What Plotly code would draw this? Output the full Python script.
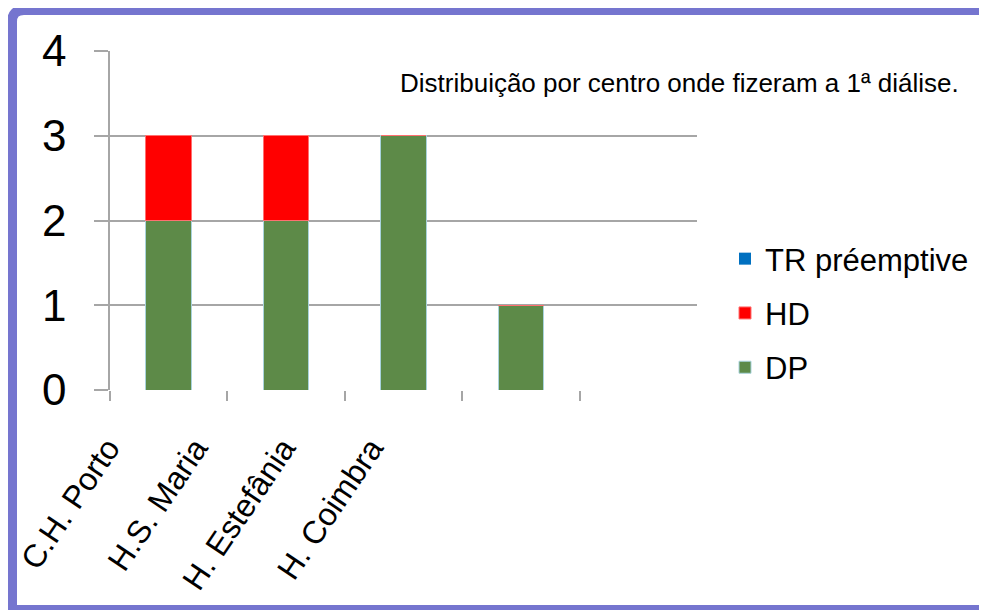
import plotly.graph_objects as go

W, H = 987, 610
OFF = 8  # page body margin, the figure is drawn 8px in from the window edge

centros = ["C.H. Porto", "H.S. Maria", "H. Estefânia", "H. Coimbra"]
dp = [2, 2, 3, 1]
hd = [1, 1, 0, 0]
tr_preemptive = [0, 0, 0, 0]

fig = go.Figure()
fig.add_trace(go.Bar(x=centros, y=dp, name="DP", legendgroup="dp", legendrank=3,
                     marker=dict(color="#5d8a48", line=dict(color="#a9d3dc", width=1))))
fig.add_trace(go.Bar(x=centros, y=hd, name="HD", legendgroup="hd", legendrank=2,
                     marker=dict(color="#ff0000", line=dict(color="#ff7070", width=1))))
fig.add_trace(go.Bar(x=centros, y=tr_preemptive, name="TR préemptive", legendgroup="tr",
                     legendrank=1, marker=dict(color="#0070c0", line=dict(width=0))))
# empty trace so the label axis gets drawn
fig.add_trace(go.Scatter(x=[], y=[], xaxis="x2", yaxis="y2", showlegend=False))

# screen pixel -> paper coords
def px(x):
    return (x - OFF) / W

def py(y):
    return 1 - (y - OFF) / H

grid = "#a6a6a6"
border = "#7575cf"
fig.update_layout(
    width=W, height=H,
    margin=dict(l=0, r=0, t=0, b=0, autoexpand=False),
    paper_bgcolor="white", plot_bgcolor="rgba(0,0,0,0)",
    barmode="stack", bargap=0.61,
    font=dict(family="Liberation Sans, Arial", color="black"),
    xaxis=dict(domain=[px(110), px(697)], type="category", range=[-0.5, 4.5],
               showticklabels=False, ticks="outside", tickson="boundaries",
               ticklen=10, tickcolor=grid, tickwidth=1.5,
               showline=False, showgrid=False, zeroline=False),
    yaxis=dict(domain=[py(390), py(51)], range=[0, 4], dtick=1,
               showgrid=True, gridcolor=grid, gridwidth=1.5,
               ticks="outside", ticklen=14, tickcolor=grid, tickwidth=1.5,
               showline=True, linecolor=grid, linewidth=1.5,
               zeroline=False, tickfont=dict(size=44), ticklabelstandoff=19),
    xaxis2=dict(domain=[px(64), px(503)], range=[-0.5, 4.5], anchor="y2",
                tickvals=[0, 1, 2, 3], ticktext=centros, tickangle=-56,
                tickfont=dict(size=32), ticks="", ticklabelstandoff=32,
                showgrid=False, showline=False, zeroline=False),
    yaxis2=dict(domain=[py(390), py(51)], visible=False, range=[0, 4]),
    legend=dict(x=px(725), y=py(232), xanchor="left", yanchor="top",
                traceorder="grouped", tracegroupgap=11,
                font=dict(size=31), bgcolor="rgba(0,0,0,0)"),
    annotations=[dict(text="Distribuição por centro onde fizeram a 1ª diálise.",
                      xref="paper", yref="paper", x=px(398), y=py(83),
                      xanchor="left", yanchor="middle", showarrow=False,
                      font=dict(size=26))],
    shapes=[
        dict(type="path", xref="paper", yref="paper",
             path=f"M {px(12)},{py(620)} L {px(12)},{py(22)} Q {px(12)},{py(10)} {px(24)},{py(10)} L {px(1010)},{py(10)}",
             line=dict(color=border, width=10)),
        dict(type="line", xref="paper", yref="paper",
             x0=px(7), x1=px(1010), y0=py(610), y1=py(610),
             line=dict(color=border, width=10)),
    ],
)

fig.write_html("out.html")
